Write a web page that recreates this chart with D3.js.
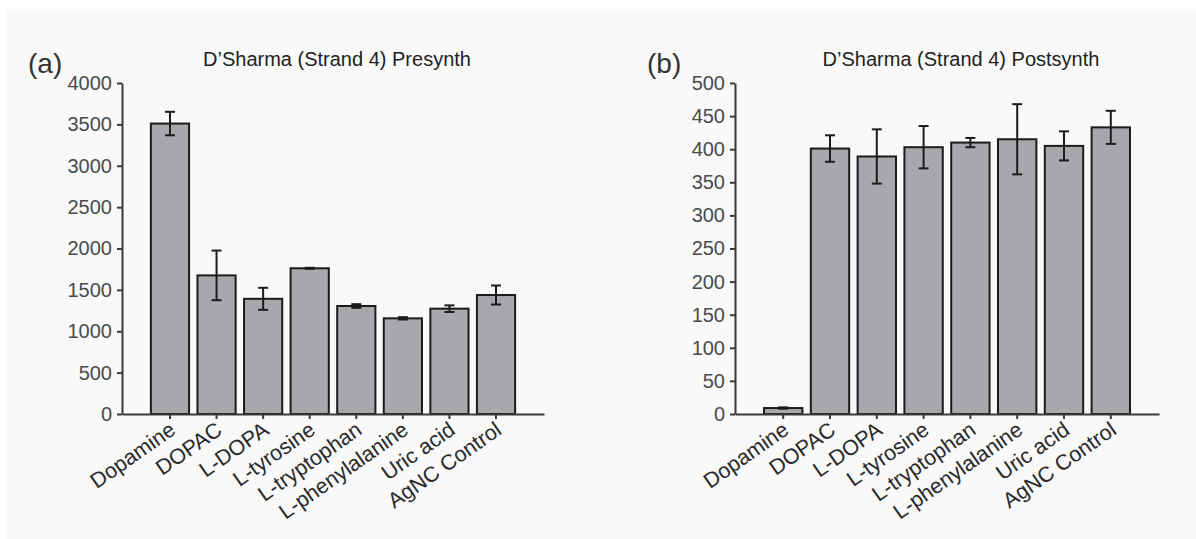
<!DOCTYPE html>
<html>
<head>
<meta charset="utf-8">
<script src="https://cdn.jsdelivr.net/npm/d3@7"></script>
<style>
  html, body { margin: 0; padding: 0; background: #ffffff; }
  svg { display: block; }
  text { font-family: "Liberation Sans", Arial, Helvetica, sans-serif; }
</style>
</head>
<body>
<svg id="chart" width="1196" height="539"></svg>
<script>
const categories = ["Dopamine", "DOPAC", "L-DOPA", "L-tyrosine", "L-tryptophan", "L-phenylalanine", "Uric acid", "AgNC Control"];
const preValues  = [3510, 1675, 1392, 1761, 1305, 1156, 1273, 1438];
const preErrors  = [142, 300, 133, 6, 22, 14, 40, 115];
const postValues = [9, 401, 389, 403, 410, 415, 405, 433];
const postErrors = [1, 20, 41, 32, 7, 53, 22, 25];
const preTicks  = [0, 500, 1000, 1500, 2000, 2500, 3000, 3500, 4000];
const postTicks = [0, 50, 100, 150, 200, 250, 300, 350, 400, 450, 500];
const preTitle = "D\u2019Sharma (Strand 4) Presynth";
const postTitle = "D\u2019Sharma (Strand 4) Postsynth";

const svg = d3.select("#chart");
svg.append("rect").attr("x", 7).attr("y", 9).attr("width", 1189).attr("height", 530).attr("fill", "#f9f9f9");

function panel(opts) {
  const { x0, x1, yTop, yBase, values, errors, ticks, title, titleX, letter, letterX } = opts;
  const g = svg.append("g");
  const x = d3.scaleBand().domain(categories).range([x0, x1]).paddingInner(0.18).paddingOuter(0.62);
  const y = d3.scaleLinear().domain([0, ticks[ticks.length - 1]]).range([yBase, yTop]);

  // bars
  g.selectAll("rect.bar").data(categories).join("rect")
    .attr("class", "bar")
    .attr("x", d => x(d))
    .attr("width", x.bandwidth())
    .attr("y", (d, i) => y(values[i]))
    .attr("height", (d, i) => yBase - y(values[i]))
    .attr("fill", "#a8a7ac")
    .attr("stroke", "#1c1c1c")
    .attr("stroke-width", 2);

  // error bars
  const eb = g.selectAll("g.err").data(categories).join("g").attr("class", "err")
    .attr("stroke", "#1c1c1c").attr("stroke-width", 2);
  eb.append("line")
    .attr("x1", d => x(d) + x.bandwidth() / 2).attr("x2", d => x(d) + x.bandwidth() / 2)
    .attr("y1", (d, i) => y(values[i] + errors[i])).attr("y2", (d, i) => y(values[i] - errors[i]));
  eb.append("line")
    .attr("x1", d => x(d) + x.bandwidth() / 2 - 5).attr("x2", d => x(d) + x.bandwidth() / 2 + 5)
    .attr("y1", (d, i) => y(values[i] + errors[i])).attr("y2", (d, i) => y(values[i] + errors[i]));
  eb.append("line")
    .attr("x1", d => x(d) + x.bandwidth() / 2 - 5).attr("x2", d => x(d) + x.bandwidth() / 2 + 5)
    .attr("y1", (d, i) => y(values[i] - errors[i])).attr("y2", (d, i) => y(values[i] - errors[i]));

  // y axis
  const ya = g.append("g").attr("transform", `translate(${x0},0)`)
    .call(d3.axisLeft(y).tickValues(ticks).tickFormat(d3.format("d")).tickSize(5).tickSizeOuter(0).tickPadding(5));
  ya.select(".domain").attr("stroke", "#3a3a3a").attr("stroke-width", 2);
  ya.selectAll(".tick line").attr("stroke", "#3a3a3a").attr("stroke-width", 2);
  ya.selectAll(".tick text").attr("fill", "#4a4a4a").style("font-size", "20px")
    .style("font-family", "'Liberation Sans', Arial, sans-serif");

  // x axis
  const xa = g.append("g").attr("transform", `translate(0,${yBase})`)
    .call(d3.axisBottom(x).tickSize(5).tickSizeOuter(0));
  xa.select(".domain").attr("stroke", "#3a3a3a").attr("stroke-width", 2);
  xa.selectAll(".tick line").attr("stroke", "#3a3a3a").attr("stroke-width", 2);
  xa.selectAll(".tick text")
    .attr("fill", "#2a2a2a").style("font-size", "21.5px")
    .style("font-family", "'Liberation Sans', Arial, sans-serif")
    .attr("text-anchor", "end")
    .attr("y", 0).attr("dy", 0)
    .attr("transform", "translate(7,19) rotate(-35)");

  // title
  g.append("text").attr("x", titleX).attr("y", 66).attr("text-anchor", "middle")
    .attr("fill", "#222").style("font-size", "20px").text(title);
  g.append("text").attr("x", letterX).attr("y", 73).attr("text-anchor", "start")
    .attr("fill", "#333").style("font-size", "28px").text(letter);
}

panel({ x0: 122, x1: 544, yTop: 83, yBase: 414, values: preValues, errors: preErrors, ticks: preTicks,
        title: preTitle, titleX: 337, letter: "(a)", letterX: 28 });
panel({ x0: 735, x1: 1159, yTop: 83, yBase: 414, values: postValues, errors: postErrors, ticks: postTicks,
        title: postTitle, titleX: 961, letter: "(b)", letterX: 647 });
</script>
</body>
</html>
